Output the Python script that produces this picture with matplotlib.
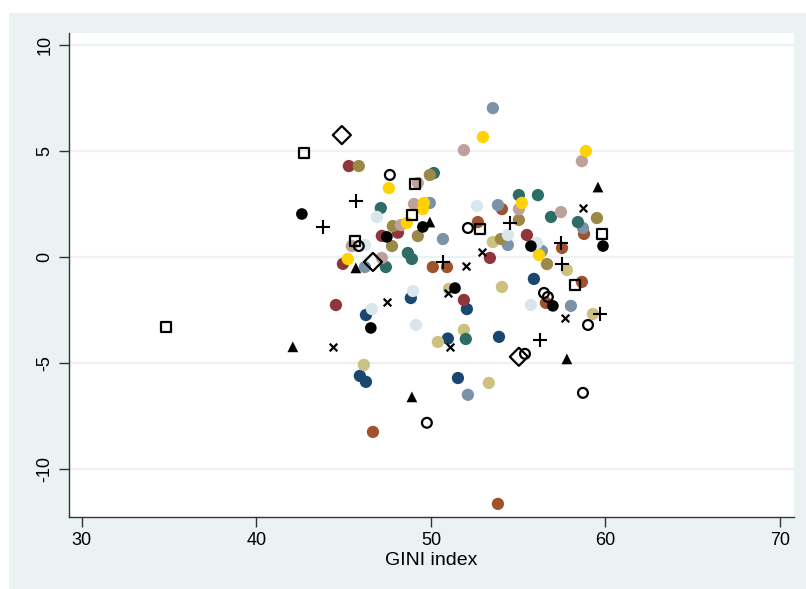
import matplotlib
matplotlib.use("Agg")
import matplotlib.pyplot as plt
from matplotlib.patches import Rectangle

plt.rcParams['font.family'] = ['Liberation Sans', 'DejaVu Sans']

# GINI index (x) vs residual (y), one group per marker style
black_dot_x = [42.61, 46.56, 47.48, 49.54, 51.38, 55.73, 56.99, 59.86]
black_dot_y = [2.04, -3.33, 0.96, 1.43, -1.45, 0.53, -2.29, 0.53]

square_x = [42.72, 34.81, 45.64, 49.08, 48.91, 52.81, 58.25, 59.80]
square_y = [4.91, -3.28, 0.77, 3.45, 1.99, 1.33, -1.31, 1.10]

plus_x = [45.70, 43.81, 50.69, 54.53, 57.45, 57.51, 56.25, 59.68]
plus_y = [2.65, 1.43, -0.22, 1.62, 0.67, -0.32, -3.88, -2.67]

diamond_x = [44.90, 46.68, 55.04]
diamond_y = [5.76, -0.22, -4.69]

ring_x = [47.65, 52.12, 49.77, 55.39, 56.48, 56.70, 59.00, 58.71, 45.87]
ring_y = [3.88, 1.38, -7.80, -4.55, -1.68, -1.87, -3.19, -6.39, 0.53]

tri_x = [42.09, 45.70, 49.94, 48.91, 57.79, 59.57]
tri_y = [-4.22, -0.50, 1.66, -6.58, -4.79, 3.31]

cross_x = [44.38, 47.48, 50.97, 51.09, 52.00, 52.92, 58.71, 57.68]
cross_y = [-4.22, -2.11, -1.68, -4.22, -0.41, 0.25, 2.32, -2.86]

navy_x = [46.28, 48.85, 52.06, 50.97, 45.93, 46.28, 51.55, 53.90, 55.90]
navy_y = [-2.72, -1.92, -2.44, -3.83, -5.59, -5.87, -5.69, -3.75, -1.02]

maroon_x = [45.30, 48.11, 47.19, 44.96, 44.56, 51.89, 53.38, 55.50]
maroon_y = [4.30, 1.16, 1.01, -0.31, -2.25, -2.01, -0.03, 1.05]

khaki_x = [51.03, 51.89, 50.40, 46.16, 53.55, 57.79, 54.07, 59.28, 53.32]
khaki_y = [-1.49, -3.42, -3.99, -5.07, 0.72, -0.60, -1.40, -2.67, -5.92]

sienna_x = [52.69, 50.11, 50.92, 54.07, 58.77, 57.51, 58.65, 56.59, 46.68, 53.84]
sienna_y = [1.66, -0.46, -0.46, 2.27, 1.10, 0.44, -1.16, -2.15, -8.23, -11.62]

emidblue_x = [53.55, 49.94, 50.69, 46.22, 53.84, 58.71, 54.41, 56.36, 58.02, 52.12]
emidblue_y = [7.03, 2.56, 0.86, -0.46, 2.46, 1.38, 0.58, 0.30, -2.29, -6.48]

emerald_x = [50.17, 47.13, 48.68, 48.91, 47.42, 55.04, 56.13, 56.88, 58.42, 52.00]
emerald_y = [3.97, 2.32, 0.20, -0.08, -0.46, 2.93, 2.93, 1.90, 1.66, -3.85]

brown_x = [45.87, 49.94, 47.82, 47.77, 49.25, 55.04, 54.01, 59.51, 56.65]
brown_y = [4.30, 3.88, 1.47, 0.53, 1.00, 1.76, 0.86, 1.85, -0.32]

erose_x = [51.89, 49.25, 49.03, 48.28, 45.47, 47.19, 58.65, 55.04, 57.45, 55.90]
erose_y = [5.05, 3.50, 2.51, 1.52, 0.53, -0.03, 4.53, 2.27, 2.13, 0.53]

gold_x = [52.98, 58.88, 47.59, 49.60, 49.54, 48.62, 55.21, 45.24, 56.19]
gold_y = [5.67, 5.01, 3.26, 2.56, 2.27, 1.62, 2.56, -0.08, 0.11]

bgray_x = [46.91, 46.22, 52.64, 54.41, 56.07, 46.62, 48.97, 49.14, 55.73]
bgray_y = [1.90, 0.58, 2.42, 1.05, 0.67, -2.44, -1.59, -3.19, -2.25]

bg = '#EAF2F3'

fig = plt.figure(figsize=(8.06, 5.89), dpi=100, facecolor=bg)
# thin white margin on the left and top edges
fig.add_artist(Rectangle((0, 0), 9 / 806, 1, transform=fig.transFigure,
                         facecolor='white', edgecolor='none', zorder=-5))
fig.add_artist(Rectangle((0, 576 / 589), 1, 13 / 589, transform=fig.transFigure,
                         facecolor='white', edgecolor='none', zorder=-5))
ax = fig.add_axes([69 / 806, 72 / 589, 725 / 806, 484 / 589])
ax.set_facecolor('white')

for yv in [-10, -5, 0, 5, 10]:
    ax.axhline(yv, color=bg, lw=1.6, zorder=1)

colored = [
    (navy_x, navy_y, '#1A476F'),
    (maroon_x, maroon_y, '#90353B'),
    (khaki_x, khaki_y, '#CAC27E'),
    (sienna_x, sienna_y, '#A0522D'),
    (emidblue_x, emidblue_y, '#7B92A8'),
    (emerald_x, emerald_y, '#2D6D66'),
    (brown_x, brown_y, '#9C8847'),
    (erose_x, erose_y, '#BFA19C'),
    (gold_x, gold_y, '#FFD200'),
    (bgray_x, bgray_y, '#D9E6EB'),
]
for xs, ys, c in colored:
    ax.scatter(xs, ys, s=78, color=c, edgecolors='none', zorder=3)

ax.scatter(black_dot_x, black_dot_y, s=70, color='black', edgecolors='none', zorder=3)
ax.scatter(square_x, square_y, s=55, marker='s', facecolors='none',
           edgecolors='black', linewidths=1.6, zorder=3)
ax.scatter(plus_x, plus_y, s=90, marker='+', color='black', linewidths=1.5, zorder=3)
ax.scatter(diamond_x, diamond_y, s=85, marker='D', facecolors='none',
           edgecolors='black', linewidths=1.6, zorder=3)
ax.scatter(ring_x, ring_y, s=50, marker='o', facecolors='none',
           edgecolors='black', linewidths=1.6, zorder=3)
ax.scatter(tri_x, tri_y, s=60, marker='^', color='black', edgecolors='none', zorder=3)
ax.scatter(cross_x, cross_y, s=30, marker='x', color='black', linewidths=1.6, zorder=3)

ax.set_xlim(29.27, 70.8)
ax.set_ylim(-12.24, 10.57)
ax.set_xticks([30, 40, 50, 60, 70])
ax.set_yticks([-10, -5, 0, 5, 10])
ax.set_yticklabels(['-10', '-5', '0', '5', '10'], rotation=90, va='center')
ax.tick_params(axis='both', direction='out', length=7, width=1, color='#333333',
               labelsize=13, pad=4)
for side in ['top', 'right']:
    ax.spines[side].set_visible(False)
for side in ['left', 'bottom']:
    ax.spines[side].set_color('#333333')
    ax.spines[side].set_linewidth(1)
ax.set_xlabel('GINI index', fontsize=14, labelpad=2)

fig.savefig('out.png', dpi=100, facecolor=bg)
